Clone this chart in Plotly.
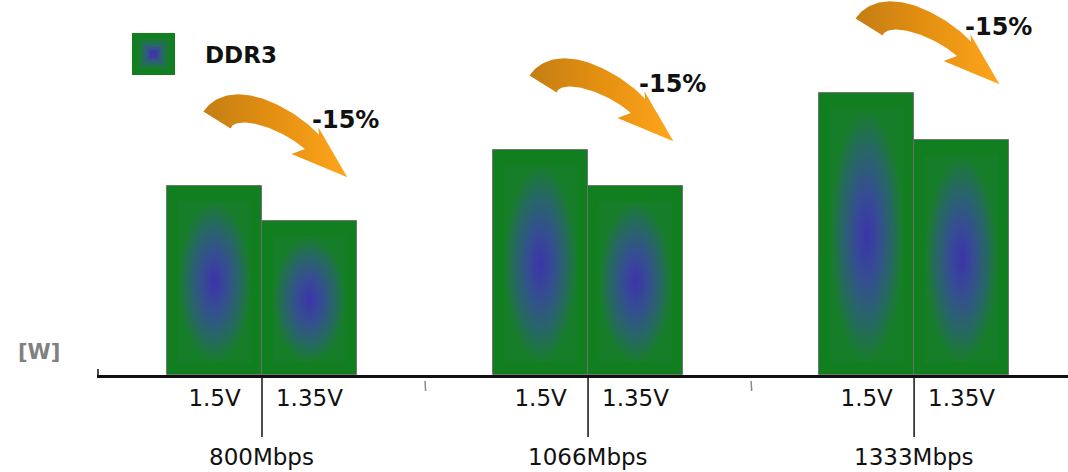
import numpy as np
import plotly.graph_objects as go

# ---- data -------------------------------------------------------------
speeds = ["800Mbps", "1066Mbps", "1333Mbps"]
voltages = ["1.5V", "1.35V"]
power_1v5 = [1.89, 2.25, 2.82]     # [W]
power_1v35 = [1.54, 1.89, 2.35]    # [W]
drop_labels = ["-15%", "-15%", "-15%"]
series_name = "DDR3"
unit_label = "[W]"

# ---- canvas / axes geometry ------------------------------------------
W, H = 1068, 472
M_L, M_R, M_T, M_B = 97, 0, 0, 97
plot_w = W - M_L - M_R
plot_h = H - M_T - M_B
x_range = [-0.506, 2.472]
y_range = [0.0, 3.75]
px_x = plot_w / (x_range[1] - x_range[0])   # pixels per x unit
px_y = plot_h / (y_range[1] - y_range[0])   # pixels per y unit

FONT = "DejaVu Sans"
TXT = "#111111"
GREEN = "rgb(17,127,31)"
INNER_GREEN = "rgb(22,126,40)"


def paper_x(px):
    return (px - M_L) / plot_w


def paper_y(py):
    return (H - M_B - py) / plot_h


def data_to_paper_x(x):
    return (x - x_range[0]) / (x_range[1] - x_range[0])


# ---- bar positions ----------------------------------------------------
bar_w = 0.291
group_x = np.arange(len(speeds), dtype=float)
bar_x, bar_h, tick_text = [], [], []
for g in range(len(speeds)):
    for off, vals, lab in ((-bar_w / 2, power_1v5, voltages[0]),
                           (bar_w / 2, power_1v35, voltages[1])):
        bar_x.append(group_x[g] + off)
        bar_h.append(vals[g])
        tick_text.append(lab)
bar_x = np.array(bar_x)
bar_h = np.array(bar_h)

fig = go.Figure()

# solid bars
fig.add_trace(go.Bar(
    x=bar_x, y=bar_h, width=bar_w,
    marker=dict(color=GREEN, line=dict(width=1, color="rgba(110,110,110,0.9)")),
    hoverinfo="skip", showlegend=False,
))

# blue glow inside every bar (radial gradient on an inset panel)
GLOW = [[0.0, "rgb(60,52,170)"], [0.35, "rgb(53,78,146)"],
        [0.7, "rgb(38,104,98)"], [0.93, "rgb(27,121,54)"],
        [1.0, INNER_GREEN]]
inset_x = 11 / px_x
inset_top = 15 / px_y
inset_bot = 12 / px_y
for xb, hb in zip(bar_x, bar_h):
    x0, x1 = xb - bar_w / 2 + inset_x, xb + bar_w / 2 - inset_x
    y0, y1 = inset_bot, hb - inset_top
    fig.add_trace(go.Scatter(
        x=[x0, x1, x1, x0, x0], y=[y0, y0, y1, y1, y0],
        mode="lines", fill="toself",
        line=dict(width=0, color="rgba(0,0,0,0)"),
        fillgradient=dict(type="radial", colorscale=GLOW),
        hoverinfo="skip", showlegend=False,
    ))

# ---- curved "reduction" arrows ---------------------------------------
ARROW_CTRL = [(-45, -66), (-29, -92), (25, -69), (50, -44)]  # px offsets
HALF_W0, HALF_W1 = 16, 10
BARB_IN, BARB_OUT, BARB_BACK, HEAD_LEN = 23, 15, 6, 50


def bez(s):
    p = np.array(ARROW_CTRL, float)
    return ((1 - s) ** 3)[:, None] * p[0] + (3 * (1 - s) ** 2 * s)[:, None] * p[1] \
        + (3 * (1 - s) * s ** 2)[:, None] * p[2] + (s ** 3)[:, None] * p[3]


def bez_d(s):
    p = np.array(ARROW_CTRL, float)
    return (3 * (1 - s) ** 2)[:, None] * (p[1] - p[0]) + (6 * (1 - s) * s)[:, None] * (p[2] - p[1]) \
        + (3 * s ** 2)[:, None] * (p[3] - p[2])


s = np.linspace(0, 1, 60)
c = bez(s)
d = bez_d(s)
d = d / np.linalg.norm(d, axis=1)[:, None]
n = np.stack([-d[:, 1], d[:, 0]], axis=1)          # points to inner side
hw = HALF_W0 + (HALF_W1 - HALF_W0) * s
outer = c - n * hw[:, None]
inner = c + n * hw[:, None]
end, de, ne = c[-1], d[-1], n[-1]
head = np.array([end - ne * BARB_OUT - de * BARB_BACK,
                 end + de * HEAD_LEN,
                 end + ne * BARB_IN - de * BARB_BACK])
arrow_px = np.vstack([outer, head, inner[::-1], outer[:1]])

for g in range(len(speeds)):
    xc = group_x[g]
    ytop = max(power_1v5[g], power_1v35[g])
    ax = xc + arrow_px[:, 0] / px_x
    ay = ytop - arrow_px[:, 1] / px_y
    fig.add_trace(go.Scatter(
        x=ax, y=ay, mode="lines", fill="toself",
        line=dict(width=0, color="rgba(0,0,0,0)"),
        fillgradient=dict(type="horizontal",
                          colorscale=[[0, "#c47e14"], [0.45, "#e28e10"],
                                      [1, "#ffa51c"]]),
        hoverinfo="skip", showlegend=False,
    ))
    fig.add_annotation(
        x=xc + 84 / px_x, y=ytop + 66 / px_y, xref="x", yref="y",
        text=f"<b>{drop_labels[g]}</b>", showarrow=False,
        font=dict(family=FONT, size=24, color=TXT),
        xanchor="center", yanchor="middle",
    )

# ---- decorations below the axis --------------------------------------
shapes = []
axis_py = H - M_B
for g in range(len(speeds)):
    xp = data_to_paper_x(group_x[g])
    shapes.append(dict(type="line", xref="paper", yref="paper",
                       x0=xp, x1=xp, y0=paper_y(axis_py), y1=paper_y(437),
                       line=dict(color="#111111", width=1.5)))
    fig.add_annotation(
        x=group_x[g], y=paper_y(457), xref="x", yref="paper",
        text=speeds[g], showarrow=False,
        font=dict(family=FONT, size=23, color=TXT),
        xanchor="center", yanchor="middle",
    )
for g in range(len(speeds) - 1):
    xp = data_to_paper_x(group_x[g] + 0.5)
    shapes.append(dict(type="line", xref="paper", yref="paper",
                       x0=xp, x1=xp + 0.0006, y0=paper_y(381), y1=paper_y(391),
                       line=dict(color="#8a8a8a", width=1.5)))
shapes.append(dict(type="line", xref="paper", yref="paper",
                   x0=paper_x(98), x1=paper_x(98), y0=paper_y(369), y1=paper_y(376),
                   line=dict(color="#111111", width=1.5)))

# ---- legend swatch ----------------------------------------------------
LX0, LY0, LX1, LY1 = 132, 33, 175, 75
SW_RAMP = ["rgb(17,127,31)", "rgb(17,127,31)", "rgb(22,125,42)", "rgb(28,120,58)",
           "rgb(34,112,82)", "rgb(42,100,108)", "rgb(50,84,134)", "rgb(56,66,156)",
           "rgb(60,54,168)"]
for k, col in enumerate(SW_RAMP):
    t = k / len(SW_RAMP)
    hx = (LX1 - LX0) / 2 * (1 - t)
    hy = (LY1 - LY0) / 2 * (1 - t)
    cx, cy = (LX0 + LX1) / 2, (LY0 + LY1) / 2
    shapes.append(dict(type="rect", xref="paper", yref="paper",
                       x0=paper_x(cx - hx), x1=paper_x(cx + hx),
                       y0=paper_y(cy + hy), y1=paper_y(cy - hy),
                       fillcolor=col, line=dict(width=0)))
fig.add_annotation(
    x=paper_x(203), y=paper_y(55), xref="paper", yref="paper",
    text=f"<b>{series_name}</b>", showarrow=False,
    font=dict(family=FONT, size=23, color=TXT),
    xanchor="left", yanchor="middle",
)
fig.add_annotation(
    x=paper_x(39), y=paper_y(352), xref="paper", yref="paper",
    text=f"<b>{unit_label}</b>", showarrow=False,
    font=dict(family=FONT, size=21, color="#808080"),
    xanchor="center", yanchor="middle",
)

fig.update_layout(
    width=W, height=H,
    margin=dict(l=M_L, r=M_R, t=M_T, b=M_B, pad=0),
    paper_bgcolor="white", plot_bgcolor="white",
    barmode="overlay", bargap=0,
    showlegend=False,
    shapes=shapes,
    xaxis=dict(range=x_range, tickvals=bar_x, ticktext=tick_text,
               showgrid=False, zeroline=False, showline=True,
               linecolor="#111111", linewidth=3, ticks="",
               tickfont=dict(family=FONT, size=23, color=TXT),
               fixedrange=True),
    yaxis=dict(range=y_range, visible=False, showgrid=False,
               zeroline=False, fixedrange=True),
)

fig.write_html("out.html")
